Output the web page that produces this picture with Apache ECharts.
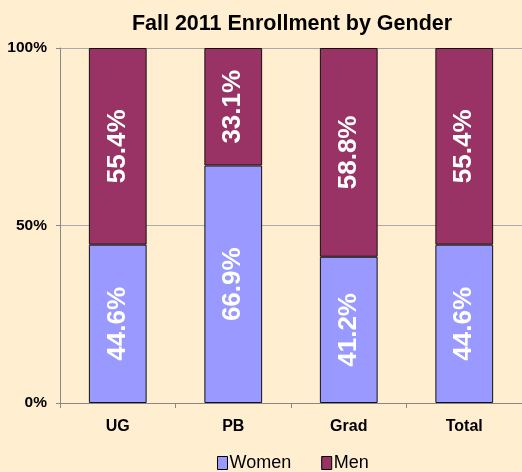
<!DOCTYPE html>
<html>
<head>
<meta charset="utf-8">
<script src="https://cdn.jsdelivr.net/npm/echarts@6/dist/echarts.min.js"></script>
<style>
  html, body { margin: 0; padding: 0; background: #FFEFD0; }
  #chart { width: 522px; height: 472px; }
</style>
</head>
<body>
<div id="chart"></div>
<script>
var categories = ['UG', 'PB', 'Grad', 'Total']
var women = [44.6, 66.9, 41.2, 44.6]
var men = [55.4, 33.1, 58.8, 55.4]

var font = '"Liberation Sans", Arial'
var chart = echarts.init(document.getElementById('chart'))

var barLabel = {
  show: true,
  position: 'inside',
  rotate: 90,
  color: '#fff',
  fontFamily: font,
  fontWeight: 'bold',
  fontSize: 26,
  formatter: function (p) { return p.value.toFixed(1) + '%' }
}

chart.setOption({
  backgroundColor: '#FFEFD0',
  animation: false,
  title: {
    text: 'Fall 2011 Enrollment by Gender',
    left: 287,
    textAlign: 'center',
    top: 8,
    textStyle: { fontFamily: font, fontWeight: 'bold', fontSize: 21.5, color: '#000' }
  },
  legend: {
    bottom: -5,
    left: 212,
    itemWidth: 10,
    itemHeight: 13,
    itemGap: 30,
    icon: 'rect',
    itemStyle: { borderColor: '#000', borderWidth: 1 },
    textStyle: { fontFamily: font, fontSize: 18, color: '#000', padding: [0, 0, 0, -3] },
    data: ['Women', 'Men']
  },
  grid: { left: 60, right: -2, top: 48, bottom: 69 },
  xAxis: {
    type: 'category',
    data: categories,
    axisLine: { lineStyle: { color: '#888' } },
    axisTick: { show: true, lineStyle: { color: '#888' } },
    axisLabel: { fontFamily: font, fontWeight: 'bold', fontSize: 16, color: '#000', margin: 16 }
  },
  yAxis: {
    type: 'value',
    min: 0,
    max: 100,
    interval: 50,
    axisLine: { show: true, lineStyle: { color: '#888' } },
    axisTick: { show: true, length: 4, lineStyle: { color: '#888' } },
    splitLine: { lineStyle: { color: '#aaa' } },
    axisLabel: { fontFamily: font, fontWeight: 'bold', fontSize: 15.5, color: '#000', margin: 13, formatter: '{value}%' }
  },
  series: [
    {
      name: 'Women',
      type: 'bar',
      stack: 'g',
      barWidth: '50%',
      data: women,
      itemStyle: { color: '#9999FF', borderColor: '#111', borderWidth: 1 },
      label: barLabel
    },
    {
      name: 'Men',
      type: 'bar',
      stack: 'g',
      barWidth: '50%',
      data: men,
      itemStyle: { color: '#993366', borderColor: '#111', borderWidth: 1 },
      label: barLabel
    }
  ]
})
</script>
</body>
</html>
